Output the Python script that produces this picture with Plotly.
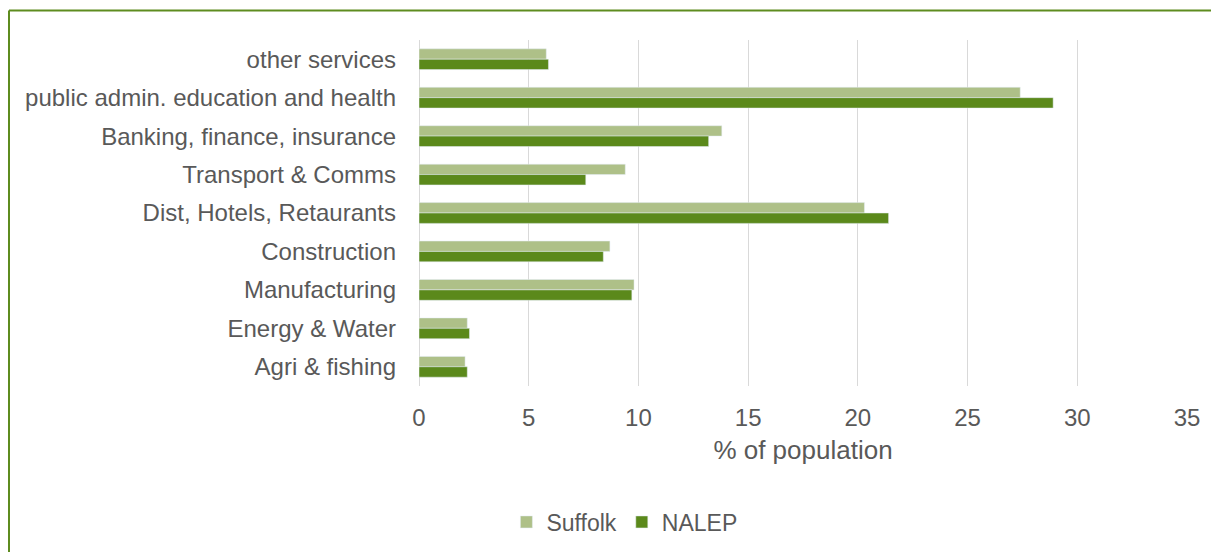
import plotly.graph_objects as go

categories = [
    "other services",
    "public admin. education and health",
    "Banking, finance, insurance",
    "Transport & Comms",
    "Dist, Hotels, Retaurants",
    "Construction",
    "Manufacturing",
    "Energy & Water",
    "Agri & fishing",
]
suffolk = [5.8, 27.4, 13.8, 9.4, 20.3, 8.7, 9.8, 2.2, 2.1]
nalep = [5.9, 28.9, 13.2, 7.6, 21.4, 8.4, 9.7, 2.3, 2.2]
x_ticks = [0, 5, 10, 15, 20, 25, 30, 35]

light_green = "#AEC088"
dark_green = "#5B891B"
grey_text = "#595959"

fig = go.Figure()

fig.add_trace(go.Bar(
    y=categories,
    x=suffolk,
    name="Suffolk",
    orientation="h",
    marker_color=light_green,
))

fig.add_trace(go.Bar(
    y=categories,
    x=nalep,
    name="NALEP",
    orientation="h",
    marker_color=dark_green,
))

# page body adds 8px, so figure is 1211x544
# plot area (figure px): left 411, right 1179, top 32, bottom 378
L, R, T, B = 411, 1179, 32, 378
pw, ph = R - L, B - T
bx = (1 - L) / pw
by = (B - 2.5) / ph

fig.update_layout(
    width=1211,
    height=544,
    margin=dict(l=L, r=1211 - R, t=T, b=544 - B),
    barmode="group",
    bargap=0.46,
    bargroupgap=0,
    plot_bgcolor="white",
    paper_bgcolor="white",
    font=dict(family="Liberation Sans, Arial, sans-serif", size=24, color=grey_text),
    legend=dict(
        orientation="h",
        xref="container",
        yref="container",
        x=0.509,
        y=1 - 514 / 544,
        xanchor="center",
        yanchor="middle",
        font=dict(size=23, color=grey_text),
        itemwidth=30,
        traceorder="normal",
    ),
    shapes=[
        # chart border (top and left only visible)
        dict(type="line", xref="paper", yref="paper",
             x0=bx, x1=1.2, y0=by, y1=by,
             line=dict(color="#5E8C1F", width=2)),
        dict(type="line", xref="paper", yref="paper",
             x0=bx, x1=bx, y0=by, y1=-0.6,
             line=dict(color="#5E8C1F", width=2)),
    ],
)

fig.update_xaxes(
    range=[0, 35],
    tickvals=x_ticks,
    showgrid=True,
    gridcolor="#D9D9D9",
    gridwidth=1,
    zeroline=True,
    zerolinecolor="#D9D9D9",
    zerolinewidth=1,
    showline=False,
    ticks="",
    ticklabelstandoff=15,
    tickfont=dict(size=24, color=grey_text),
    title=dict(text="% of population", font=dict(size=26, color=grey_text), standoff=10),
)

fig.update_yaxes(
    autorange="reversed",
    showgrid=False,
    showline=False,
    ticks="",
    ticklabelstandoff=22,
    tickfont=dict(size=24, color=grey_text),
)

fig.write_html("out.html")
